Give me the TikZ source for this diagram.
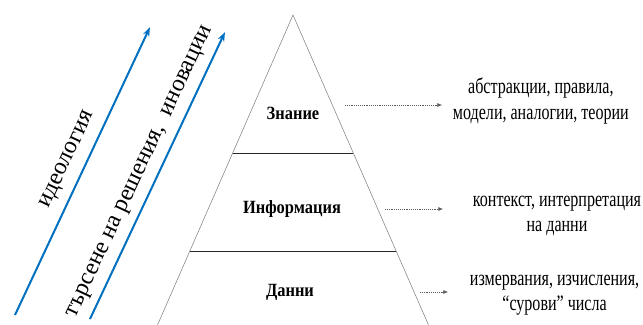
\documentclass[tikz,border=0pt]{standalone}
\usepackage{fontspec}
\setmainfont{Liberation Serif}
\newfontfamily\narrowserif[FakeStretch=0.73]{Liberation Serif}
\newfontfamily\levelserif[FakeStretch=0.88]{Liberation Serif}
\usepackage{xcolor}
\usetikzlibrary{arrows.meta,positioning,calc}
\definecolor{trendblue}{RGB}{0,112,192}

\tikzset{
    level/.style={font=\levelserif\bfseries\fontsize{14}{16}\selectfont},
    note/.style={font=\narrowserif\fontsize{16.5}{19}\selectfont, align=center, inner sep=2pt},
    dotarrow/.style={gray!70!black, densely dotted, -{Latex[length=3.5pt,width=3pt]}},
    trend/.style={draw=trendblue, line width=1.5pt, -{Stealth[length=7pt,width=5pt]}},
    trendtext/.style={font=\fontsize{18}{20}\selectfont, rotate=64.9}
}

\begin{document}
\begin{tikzpicture}[x=0.75pt,y=0.75pt]
    \useasboundingbox (0,0) rectangle (643,325);

    % Pyramid
    \coordinate (top) at (293,310);
    \coordinate (bl) at (157.5,0);
    \coordinate (br) at (428.5,0);
    \draw[gray] (bl) -- (top) -- (br);
    \draw[black!85] ($(top)!0.445!(bl)$) -- ($(top)!0.445!(br)$);
    \draw[black!85] ($(top)!0.761!(bl)$) -- ($(top)!0.761!(br)$);

    % Levels
    \node[level] (zn) at (293,212) {Знание};
    \node[level] (inf) at (292,116) {Информация};
    \node[level] (dn) at (290,33) {Данни};

    % Descriptions
    \node[note, anchor=west] (zn-d) at (450,224) {абстракции, правила,\\модели, аналогии, теории};
    \node[note, anchor=west] (inf-d) at (470,109) {контекст, интерпретация\\на данни};
    \node[note, anchor=west] (dn-d) at (467,30) {измервания, изчисления,\\“сурови” числа};

    % Dotted arrows
    \coordinate (zn-a) at (345,220);
    \coordinate (zn-b) at (442,220);
    \coordinate (inf-a) at (385,116);
    \coordinate (inf-b) at (443,116);
    \coordinate (dn-a) at (420,33);
    \coordinate (dn-b) at (448,33);
    \draw[dotarrow] (zn-a) -- (zn-b);
    \draw[dotarrow] (inf-a) -- (inf-b);
    \draw[dotarrow] (dn-a) -- (dn-b);

    % Blue arrows
    \coordinate (ideo-s) at (15,10);
    \coordinate (ideo-e) at (150,298);
    \coordinate (inno-s) at (90,6);
    \coordinate (inno-e) at (225,293);
    \draw[trend] (ideo-s) -- (ideo-e);
    \draw[trend] (inno-s) -- (inno-e);
    \node[trendtext] (ideo) at (68,165) {идеология};
    \node[trendtext] (inno) at (141,153) {търсене на решения,\ \ иновации};
\end{tikzpicture}
\end{document}
